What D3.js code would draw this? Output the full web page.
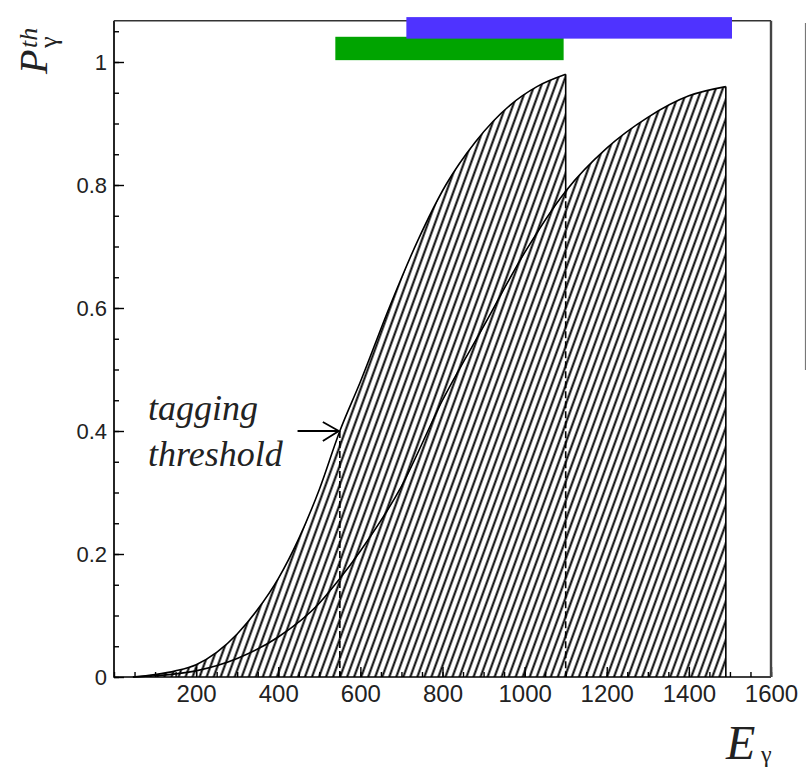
<!DOCTYPE html>
<html>
<head>
<meta charset="utf-8">
<script src="https://cdn.jsdelivr.net/npm/d3@7"></script>
<style>
  body { margin: 0; background: #fff; }
  svg { display: block; }
</style>
</head>
<body>
<svg id="chart" width="806" height="770"></svg>
<script>
// photon energy (MeV) and polarisation
const energyLow = [46, 100, 150, 200, 250, 300, 350, 400, 450, 500, 550, 600, 670, 740, 808, 880, 965, 1030, 1100];
const polLow    = [0, 0.004, 0.01, 0.02, 0.04, 0.07, 0.11, 0.16, 0.225, 0.305, 0.4, 0.48, 0.6, 0.71, 0.8, 0.87, 0.93, 0.96, 0.98];
const energyHigh = [46, 100, 200, 300, 400, 500, 550, 600, 700, 800, 900, 1000, 1100, 1200, 1300, 1400, 1490];
const polHigh    = [0, 0.002, 0.01, 0.03, 0.065, 0.12, 0.16, 0.205, 0.31, 0.45, 0.57, 0.69, 0.79, 0.86, 0.91, 0.945, 0.96];
const taggingThreshold = 550;
// tagged energy ranges shown as bars above the plot
const greenRange = [539, 1095];
const blueRange = [712, 1505];
const xTickLabels = [200, 400, 600, 800, 1000, 1200, 1400, 1600];
const yTickLabels = [0, 0.2, 0.4, 0.6, 0.8, 1];

const svg = d3.select('#chart');
const x = d3.scaleLinear().domain([0, 1600]).range([114, 771]);
const y = d3.scaleLinear().domain([0, 1]).range([677, 62]);
const yTop = 1.067;

const defs = svg.append('defs');
const pat = defs.append('pattern')
    .attr('id', 'hatch')
    .attr('patternUnits', 'userSpaceOnUse')
    .attr('width', 6.6)
    .attr('height', 20)
    .attr('patternTransform', 'rotate(20)');
pat.append('line')
    .attr('x1', 3.3).attr('y1', -1).attr('x2', 3.3).attr('y2', 21)
    .attr('stroke', '#000').attr('stroke-width', 2);

const low = energyLow.map((e, i) => ({ e, p: polLow[i] }));
const high = energyHigh.map((e, i) => ({ e, p: polHigh[i] }));
const pAt = (arr, e) => arr.find(d => d.e === e).p;

const area = d3.area()
    .x(d => x(d.e)).y0(y(0)).y1(d => y(d.p))
    .curve(d3.curveMonotoneX);
const line = d3.line()
    .x(d => x(d.e)).y(d => y(d.p))
    .curve(d3.curveMonotoneX);

const g = svg.append('g');
// both regions in one path so the overlap is hatched only once
g.append('path').attr('d', area(high) + area(low)).attr('fill', 'url(#hatch)');

g.append('path').attr('d', line(high)).attr('fill', 'none')
    .attr('stroke', '#000').attr('stroke-width', 1.6);
g.append('path').attr('d', line(low)).attr('fill', 'none')
    .attr('stroke', '#000').attr('stroke-width', 1.6);

// edges of the shaded regions
const eCut = energyLow[energyLow.length - 1];
const eEnd = energyHigh[energyHigh.length - 1];
g.append('line')
    .attr('x1', x(eCut)).attr('x2', x(eCut))
    .attr('y1', y(pAt(low, eCut))).attr('y2', y(pAt(high, eCut)))
    .attr('stroke', '#000').attr('stroke-width', 1.6);
g.append('line')
    .attr('x1', x(eCut)).attr('x2', x(eCut))
    .attr('y1', y(pAt(high, eCut))).attr('y2', y(0))
    .attr('stroke', '#000').attr('stroke-width', 1.6)
    .attr('stroke-dasharray', '7,3');
g.append('line')
    .attr('x1', x(eEnd)).attr('x2', x(eEnd))
    .attr('y1', y(pAt(high, eEnd))).attr('y2', y(0))
    .attr('stroke', '#000').attr('stroke-width', 1.6);
g.append('line')
    .attr('x1', x(taggingThreshold)).attr('x2', x(taggingThreshold))
    .attr('y1', y(pAt(low, taggingThreshold))).attr('y2', y(0))
    .attr('stroke', '#000').attr('stroke-width', 1.6)
    .attr('stroke-dasharray', '7,3');

// axes with inward ticks
const yAxis = svg.append('g').attr('transform', `translate(${x(0)},0)`)
    .call(d3.axisLeft(y).tickValues(yTickLabels).tickSize(-10).tickPadding(7)
        .tickFormat(d => String(+d.toFixed(1))));
svg.append('g').attr('transform', `translate(${x(0)},0)`)
    .call(d3.axisLeft(y).tickValues(d3.range(0, 1.06, 0.05)).tickSize(-5).tickFormat(''));
const xAxis = svg.append('g').attr('transform', `translate(0,${y(0)})`)
    .call(d3.axisBottom(x).tickValues(xTickLabels).tickSize(-10).tickPadding(8)
        .tickFormat(d3.format('d')));
svg.append('g').attr('transform', `translate(0,${y(0)})`)
    .call(d3.axisBottom(x).tickValues(d3.range(0, 1601, 50)).tickSize(-5).tickFormat(''));

svg.selectAll('.domain').remove();
svg.selectAll('.tick line').attr('stroke', '#000').attr('stroke-width', 1.4);
svg.selectAll('.tick text')
    .style('font-family', '"Liberation Sans", Arial, sans-serif')
    .attr('fill', '#222');
yAxis.selectAll('.tick text').style('font-size', '22px');
xAxis.selectAll('.tick text').style('font-size', '24px');

// frame
const fr = { l: x(0), r: x(1600), t: y(yTop), b: y(0) };
svg.append('path')
    .attr('d', `M${fr.l},${fr.t}V${fr.b}H${fr.r}`)
    .attr('fill', 'none').attr('stroke', '#000').attr('stroke-width', 1.7);
svg.append('line').attr('x1', fr.l).attr('x2', fr.r).attr('y1', fr.t).attr('y2', fr.t)
    .attr('stroke', '#333').attr('stroke-width', 1.6);
svg.append('line').attr('x1', fr.r).attr('x2', fr.r).attr('y1', fr.t).attr('y2', fr.b)
    .attr('stroke', '#444').attr('stroke-width', 2.4);

// tagged energy bars
svg.append('rect')
    .attr('x', x(greenRange[0])).attr('width', x(greenRange[1]) - x(greenRange[0]))
    .attr('y', y(1.041)).attr('height', y(1.003) - y(1.041))
    .attr('fill', '#00a400');
svg.append('rect')
    .attr('x', x(blueRange[0])).attr('width', x(blueRange[1]) - x(blueRange[0]))
    .attr('y', y(1.073)).attr('height', y(1.038) - y(1.073))
    .attr('fill', '#4f33ff');

// cropped legend box edge on the right
svg.append('line').attr('x1', 805.5).attr('x2', 805.5).attr('y1', 23).attr('y2', 370)
    .attr('stroke', '#777').attr('stroke-width', 1.2);

// annotation
const serif = '"Liberation Serif", "Times New Roman", serif';
const aY = y(pAt(low, taggingThreshold));
const aX1 = x(taggingThreshold) - 1;
const aX0 = x(447);
svg.append('path')
    .attr('d', `M${aX0},${aY}H${aX1}M${aX1 - 16},${aY - 9}L${aX1},${aY}L${aX1 - 16},${aY + 10}`)
    .attr('fill', 'none').attr('stroke', '#000').attr('stroke-width', 1.8);
svg.append('text').attr('x', x(83)).attr('y', 420)
    .style('font-family', serif).style('font-style', 'italic').style('font-size', '36px')
    .attr('fill', '#222').text('tagging');
svg.append('text').attr('x', x(83)).attr('y', 466)
    .style('font-family', serif).style('font-style', 'italic').style('font-size', '36px')
    .attr('fill', '#222').text('threshold');

// axis titles
svg.append('text').attr('transform', 'translate(47,74) rotate(-90)')
    .style('font-family', serif).style('font-style', 'italic').style('font-size', '40px')
    .attr('fill', '#222').text('P');
svg.append('text').attr('transform', 'translate(57,48) rotate(-90)')
    .style('font-family', serif).style('font-size', '26px')
    .attr('fill', '#222').text('γ');
svg.append('text').attr('transform', 'translate(37,48) rotate(-90)')
    .style('font-family', serif).style('font-style', 'italic').style('font-size', '26px')
    .attr('fill', '#222').text('th');
svg.append('text').attr('x', 726).attr('y', 759)
    .style('font-family', serif).style('font-style', 'italic').style('font-size', '48px')
    .attr('fill', '#222').text('E');
svg.append('text').attr('x', 761).attr('y', 762)
    .style('font-family', serif).style('font-size', '24px')
    .attr('fill', '#222').text('γ');
</script>
</body>
</html>
